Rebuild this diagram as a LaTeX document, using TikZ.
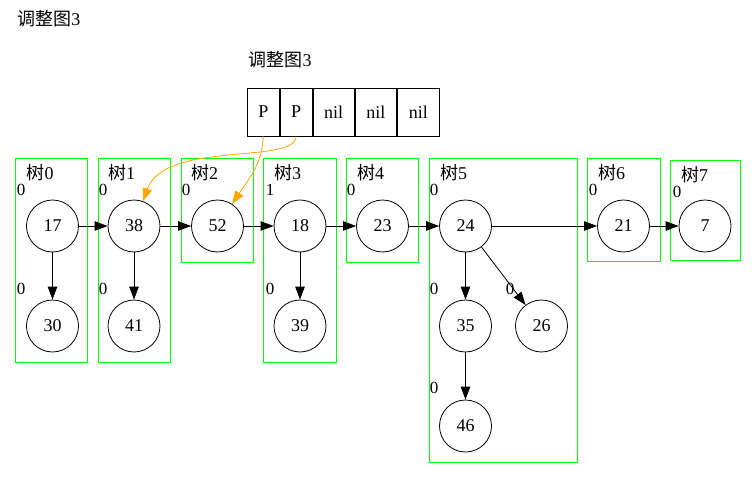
\documentclass[tikz,border=0pt]{standalone}
\usepackage{fontspec}
\setmainfont{Liberation Serif}
\newfontfamily\cjk{Noto Sans CJK SC}
\usepackage{tikz}
\usetikzlibrary{arrows.meta,calc,positioning}
\tikzset{
  heapnode/.style = {circle, draw=black, line width=0.8pt, minimum size=52pt, inner sep=0pt,
  text centered, font=\fontsize{18}{20}\selectfont},
  heap_n/.style = {heapnode},
  deg_n/.style = {inner sep=0pt, font=\fontsize{17}{19}\selectfont},
  tree_l/.style = {anchor=west, inner sep=0pt, font=\fontsize{18}{20}\selectfont},
  cell_n/.style = {draw, line width=0.8pt, minimum height=48pt, inner sep=0pt,
  font=\fontsize{18}{20}\selectfont}
}
\definecolor{my_green}{RGB}{0, 255, 0}
\definecolor{my_orange}{RGB}{255, 165, 0}

\begin{document}
\begin{tikzpicture}[x=1pt,y=-1pt,>={Triangle[length=13pt,width=9.5pt]},
        	link/.style={->, black, line width=0.8pt},
        	ptr/.style={->, my_orange, line width=0.8pt},
        	treebox/.style={draw=my_green, line width=0.8pt},
        	title_n/.style={inner sep=0pt, font=\fontsize{18}{20}\selectfont}]
            \useasboundingbox (0,0) rectangle (756,479);
            \node [title_n] (title) at (49,19) {{\cjk 调整图}3};
            \node [title_n] (label) at (280,60) {{\cjk 调整图}3};

            \node [cell_n, minimum width=32pt] (p0) at (263.3,112) {P};
            \node [cell_n, minimum width=32pt, right=0pt of p0] (p1) {P};
            \node [cell_n, minimum width=41.5pt, right=0pt of p1] (p2) {nil};
            \node [cell_n, minimum width=41.5pt, right=0pt of p2] (p3) {nil};
            \node [cell_n, minimum width=41.5pt, right=0pt of p3] (p4) {nil};

            \draw [treebox] (15.7,158.3) rectangle (87.7,362.3);
            \draw [treebox] (98.3,158.3) rectangle (170.7,362.3);
            \draw [treebox] (181,158.3) rectangle (253.3,262.3);
            \draw [treebox] (263.3,158.3) rectangle (336,362.3);
            \draw [treebox] (346.7,158.3) rectangle (418.7,262.3);
            \draw [treebox] (429.3,158.3) rectangle (577.3,462.3);
            \draw [treebox] (587.3,158.3) rectangle (660,261.7);
            \draw [treebox] (670.7,160.7) rectangle (740,260.7);
            \node [tree_l] (t0) at (26.5,173) {{\cjk 树}0};
            \node [tree_l] (t1) at (108,173) {{\cjk 树}1};
            \node [tree_l] (t2) at (191,173) {{\cjk 树}2};
            \node [tree_l] (t3) at (274,173) {{\cjk 树}3};
            \node [tree_l] (t4) at (357,173) {{\cjk 树}4};
            \node [tree_l] (t5) at (440,173) {{\cjk 树}5};
            \node [tree_l] (t6) at (598,173) {{\cjk 树}6};
            \node [tree_l] (t7) at (681,175) {{\cjk 树}7};

            \node [heap_n] (n17) at (52.5,226) {17};
            \node [heap_n] (n30) at (52.5,326) {30};
            \node [heap_n] (n38) at (134,226) {38};
            \node [heap_n] (n41) at (134,326) {41};
            \node [heap_n] (n52) at (217.5,226) {52};
            \node [heap_n] (n18) at (300,226) {18};
            \node [heap_n] (n39) at (300,326) {39};
            \node [heap_n] (n23) at (382.5,226) {23};
            \node [heap_n] (n24) at (465.5,226) {24};
            \node [heap_n] (n35) at (465.5,326) {35};
            \node [heap_n] (n46) at (465.5,426) {46};
            \node [heap_n] (n26) at (541.5,326) {26};
            \node [heap_n] (n21) at (623.5,226) {21};
            \node [heap_n] (n7) at (705,226) {7};

            \node [deg_n] (d17) at (21,190) {0};
            \node [deg_n] (d30) at (21,289) {0};
            \node [deg_n] (d38) at (103,190) {0};
            \node [deg_n] (d41) at (103,289) {0};
            \node [deg_n] (d52) at (186,190) {0};
            \node [deg_n] (d18) at (270,190) {1};
            \node [deg_n] (d39) at (270,289) {0};
            \node [deg_n] (d23) at (351,190) {0};
            \node [deg_n] (d24) at (434,190) {0};
            \node [deg_n] (d35) at (434,289) {0};
            \node [deg_n] (d46) at (434,388) {0};
            \node [deg_n] (d26) at (510,289) {0};
            \node [deg_n] (d21) at (593,190) {0};
            \node [deg_n] (d7) at (677,192) {0};

            \draw [link] (n17) -- (n38);
            \draw [link] (n38) -- (n52);
            \draw [link] (n52) -- (n18);
            \draw [link] (n18) -- (n23);
            \draw [link] (n23) -- (n24);
            \draw [link] (n24) -- (n21);
            \draw [link] (n21) -- (n7);
            \draw [link] (n17) -- (n30);
            \draw [link] (n38) -- (n41);
            \draw [link] (n18) -- (n39);
            \draw [link] (n24) -- (n35);
            \draw [link] (n35) -- (n46);
            \draw [link] (n24) -- (n26);

            \draw [ptr] (p0.south) .. controls (262,165) and (248,180) .. (n52);
            \draw [ptr] (p1.south) .. controls (295,165) and (165,140) .. (n38);
        \end{tikzpicture}
\end{document}
